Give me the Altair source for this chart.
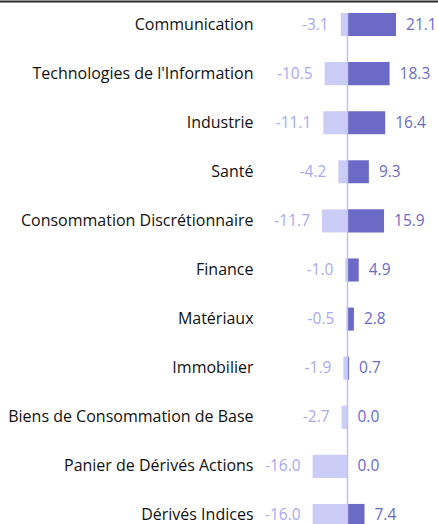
import altair as alt
import pandas as pd

categories = ["Communication", "Technologies de l'Information", "Industrie", "Santé",
              "Consommation Discrétionnaire", "Finance", "Matériaux", "Immobilier",
              "Biens de Consommation de Base", "Panier de Dérivés Actions", "Dérivés Indices"]
negatives = [-3.1, -10.5, -11.1, -4.2, -11.7, -1.0, -0.5, -1.9, -2.7, -16.0, -16.0]
positives = [21.1, 18.3, 16.4, 9.3, 15.9, 4.9, 2.8, 0.7, 0.0, 0.0, 7.4]

df = pd.DataFrame({"cat": categories, "neg": negatives, "pos": positives})
df["neg_label"] = df["neg"].map(lambda v: f"{v:.1f}")
df["pos_label"] = df["pos"].map(lambda v: f"{v:.1f}")
df["zero"] = 0.0

FONT = "Open Sans"
DARK = "#6b6bc7"
LIGHT = "#cccdf7"
NEG_TXT = "#a9a9f0"

# negative side and positive side are drawn with slightly different px/unit, zero shared
xs_neg = alt.Scale(domain=[-41.05, 41.5], nice=False, zero=False)
xs_pos = alt.Scale(domain=[-38.9, 39.35], nice=False, zero=False)
ys = alt.Scale(domain=categories, paddingInner=0.53, paddingOuter=0.265)

y_enc = alt.Y("cat:N", scale=ys, sort=categories,
              axis=alt.Axis(title=None, ticks=False, domain=False, grid=False, labelPadding=5,
                            labelFont=FONT, labelFontSize=16, labelColor="#111111",
                            labelLimit=400))
y_plain = alt.Y("cat:N", scale=ys, sort=categories)

base = alt.Chart(df)

neg_bar = base.mark_bar(color=LIGHT).encode(
    x=alt.X("neg:Q", scale=xs_neg, axis=None), x2="zero:Q", y=y_enc)
neg_txt = base.mark_text(align="right", baseline="middle", dx=-12, font=FONT,
                         fontSize=15.5, color=NEG_TXT).encode(
    x=alt.X("neg:Q", scale=xs_neg, axis=None), y=y_plain, text="neg_label:N")

pos_bar = base.mark_bar(color=DARK).encode(
    x=alt.X("zero:Q", scale=xs_pos, axis=None), x2="pos:Q", y=y_plain)
pos_txt = base.mark_text(align="left", baseline="middle", dx=10, font=FONT,
                         fontSize=15.5, color=DARK).encode(
    x=alt.X("pos:Q", scale=xs_pos, axis=None), y=y_plain, text="pos_label:N")

zero_rule = alt.Chart(pd.DataFrame({"z": [0.0]})).mark_rule(color="#c0c0f4", strokeWidth=1.5).encode(
    x=alt.X("z:Q", scale=xs_pos, axis=None), y=alt.value(13), y2=alt.value(560))

top_rule = alt.Chart(pd.DataFrame({"z": [0.0]})).mark_rule(color="#2b2b2b", strokeWidth=2).encode(
    x=alt.value(-260), x2=alt.value(200), y=alt.value(1.5))

chart = alt.layer(neg_bar, neg_txt, pos_bar, zero_rule, pos_txt, top_rule).resolve_scale(
    x="independent"
).properties(
    width=180, height=540,
    padding={"left": 258, "top": 0, "right": 0, "bottom": 0},
    autosize=alt.AutoSizeParams(type="none"),
    background="white",
).configure_view(stroke="transparent", strokeWidth=0).configure_axis(grid=False, domain=False)

chart.save("out.html", embed_options={"renderer": "svg", "actions": False})
